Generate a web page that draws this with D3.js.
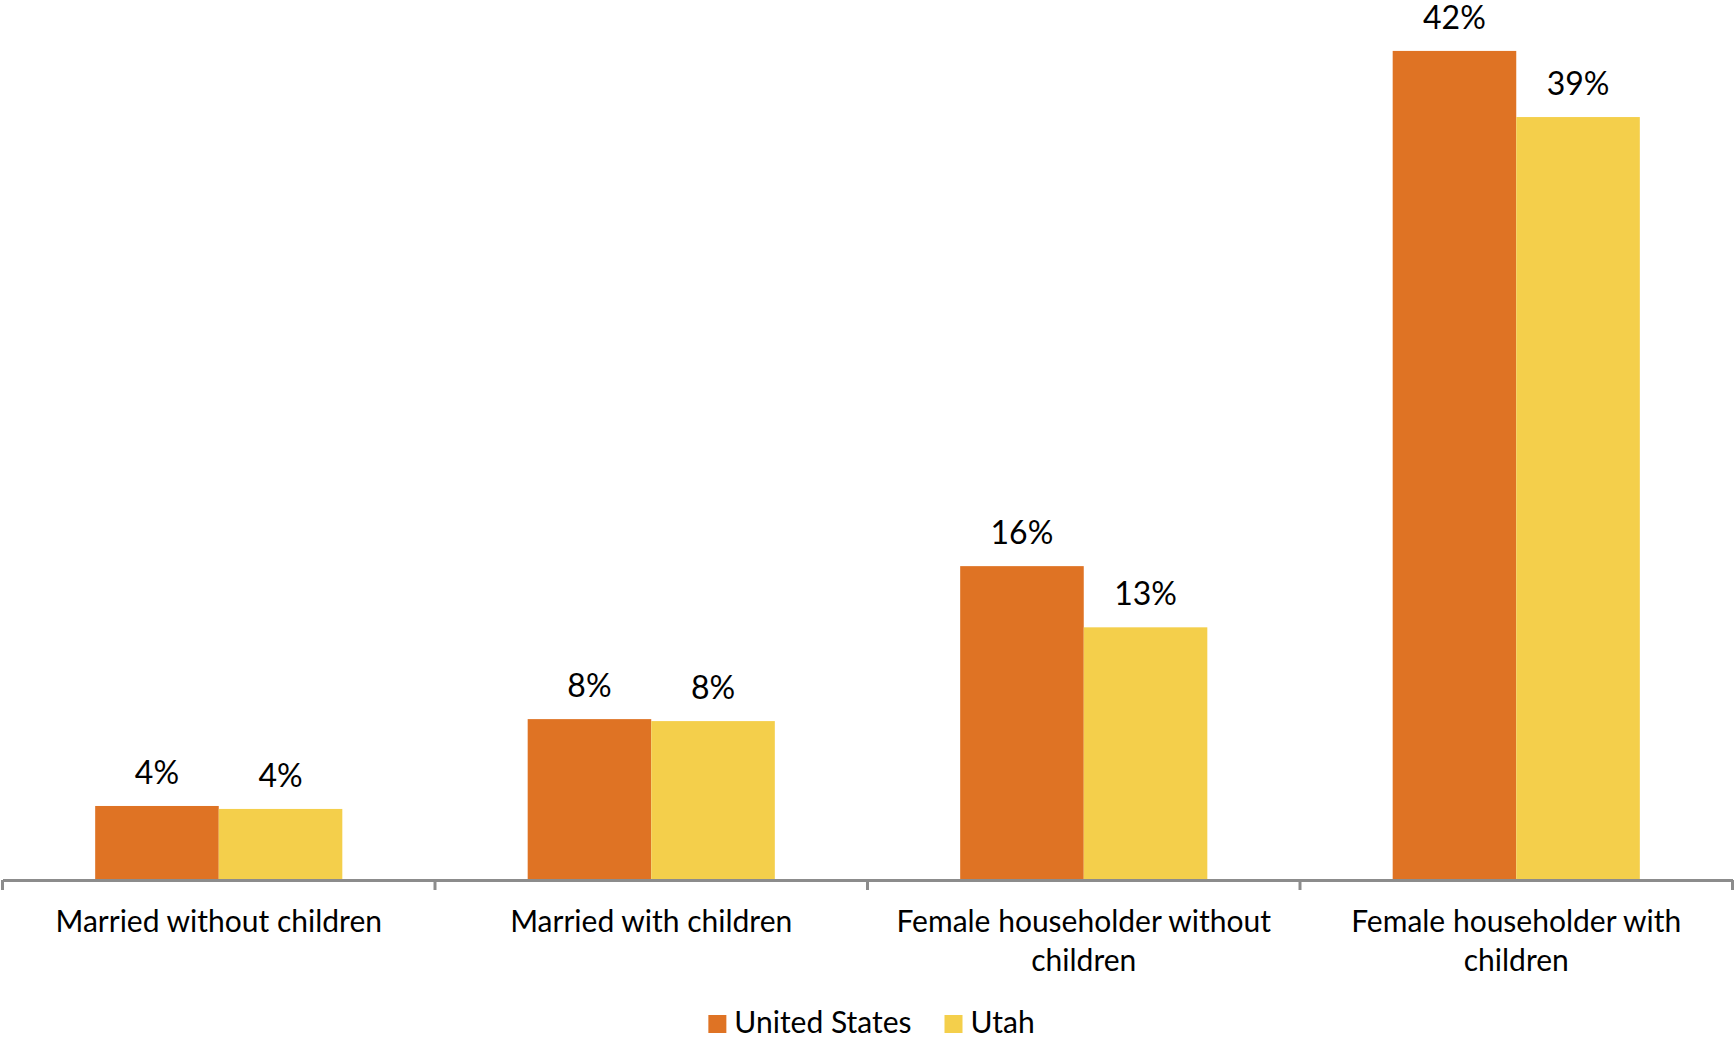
<!DOCTYPE html>
<html>
<head>
<meta charset="utf-8">
<script src="https://cdn.jsdelivr.net/npm/d3@7"></script>
<style>
  body { margin: 0; background: #fff; }
  svg { display: block; }
  text { font-family: Lato, "Open Sans", sans-serif; fill: #000; }
</style>
</head>
<body>
<div id="chart"></div>
<script>
// data (percent)
var categories = ["Married without children", "Married with children",
  "Female householder without children", "Female householder with children"];
var seriesNames = ["United States", "Utah"];
var usValues = [3.75, 8.15, 15.9, 42.0];
var utahValues = [3.6, 8.05, 12.8, 38.65];
var valueLabels = [["4%", "8%", "16%", "42%"], ["4%", "8%", "13%", "39%"]];
var colors = ["#df7324", "#f4cf4b"];

var width = 1734, height = 1040;
var axisY = 880;

var svg = d3.select("#chart").append("svg")
  .attr("width", width)
  .attr("height", height);

var x0 = d3.scaleBand()
  .domain(categories)
  .range([2.5, 1732.5])
  .paddingInner(0)
  .paddingOuter(0);

var x1 = d3.scaleBand()
  .domain(seriesNames)
  .range([0, x0.bandwidth()])
  .paddingInner(0)
  .paddingOuter(0.75);

var y = d3.scaleLinear()
  .domain([0, 45])
  .range([axisY, axisY - 45 * 19.74]);

var allValues = [usValues, utahValues];

var groups = svg.selectAll("g.cat")
  .data(categories)
  .enter().append("g")
  .attr("class", "cat")
  .attr("transform", function(d) { return "translate(" + x0(d) + ",0)"; });

function barData(d, i) {
  return seriesNames.map(function(s, j) { return {s: s, j: j, v: allValues[j][i], label: valueLabels[j][i]}; });
}

groups.selectAll("rect")
  .data(barData)
  .enter().append("rect")
  .attr("x", function(d) { return x1(d.s); })
  .attr("y", function(d) { return y(d.v); })
  .attr("width", x1.bandwidth())
  .attr("height", function(d) { return axisY - y(d.v); })
  .style("fill", function(d) { return colors[d.j]; });

groups.selectAll("text.val")
  .data(barData)
  .enter().append("text")
  .attr("class", "val")
  .attr("x", function(d) { return x1(d.s) + x1.bandwidth() / 2; })
  .attr("y", function(d) { return y(d.v) - 22; })
  .attr("text-anchor", "middle")
  .style("font-size", "32px")
  .text(function(d) { return d.label; });

// axis line
var axis = svg.append("g")
  .attr("transform", "translate(0," + axisY + ")")
  .call(d3.axisBottom(x0).tickSize(0).tickFormat(""));
axis.select(".domain").attr("stroke", "#8c8c8c").attr("stroke-width", 3);

var tickXs = categories.map(function(c) { return x0(c); }).concat([x0.range()[1]]);
axis.selectAll("line.sep")
  .data(tickXs)
  .enter().append("line")
  .attr("class", "sep")
  .attr("x1", function(d) { return d; })
  .attr("x2", function(d) { return d; })
  .attr("y1", 0)
  .attr("y2", 10)
  .attr("stroke", "#8c8c8c")
  .attr("stroke-width", 3);

// category labels with word wrap
var catLabels = svg.selectAll("text.cat")
  .data(categories)
  .enter().append("text")
  .attr("class", "cat")
  .attr("text-anchor", "middle")
  .attr("x", function(d) { return x0(d) + x0.bandwidth() / 2; })
  .attr("y", 932)
  .style("font-size", "30px");

catLabels.each(function(d) {
  var t = d3.select(this);
  var words = d.split(" ");
  var maxW = x0.bandwidth() - 20;
  var line = [];
  var tspan = t.append("tspan").attr("x", t.attr("x")).attr("dy", 0);
  words.forEach(function(w) {
    line.push(w);
    tspan.text(line.join(" "));
    if (tspan.node().getComputedTextLength() > maxW && line.length > 1) {
      line.pop();
      tspan.text(line.join(" "));
      line = [w];
      tspan = t.append("tspan").attr("x", t.attr("x")).attr("dy", 39).text(w);
    }
  });
});

// legend
var legend = svg.append("g");
var items = legend.selectAll("g")
  .data(seriesNames)
  .enter().append("g");
items.append("rect")
  .attr("width", 18).attr("height", 18)
  .attr("y", 1015)
  .style("fill", function(d, i) { return colors[i]; });
items.append("text")
  .attr("x", 26)
  .attr("y", 1033)
  .style("font-size", "30px")
  .text(function(d) { return d; });

var xPos = 0, gap = 33;
var offsets = [];
items.each(function() {
  var w = this.getBBox().width;
  offsets.push(xPos);
  xPos += w + gap;
});
var total = xPos - gap;
var start = (x0.range()[0] + x0.range()[1]) / 2 - total / 2 + 4;
items.attr("transform", function(d, i) { return "translate(" + (start + offsets[i]) + ",0)"; });
</script>
</body>
</html>
